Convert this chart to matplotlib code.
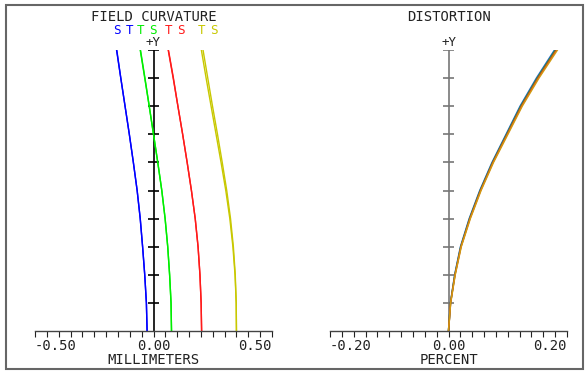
import numpy as np
import matplotlib
matplotlib.use("Agg")
import matplotlib.pyplot as plt
from matplotlib.patches import Rectangle

# relative field height (0 = axis, 1 = full field)
field = [0.0, 0.1, 0.2, 0.3, 0.4, 0.5, 0.6, 0.7, 0.8, 0.9, 1.0]

# field curvature, millimeters (T = tangential, S = sagittal)
blue_s = [-0.027, -0.030, -0.037, -0.046, -0.056, -0.069, -0.085, -0.102, -0.120, -0.138, -0.156]
blue_t = [-0.027, -0.030, -0.037, -0.046, -0.056, -0.069, -0.085, -0.102, -0.120, -0.138, -0.155]
green_t = [0.076, 0.074, 0.068, 0.060, 0.049, 0.035, 0.018, 0.000, -0.018, -0.037, -0.056]
green_s = [0.076, 0.074, 0.068, 0.060, 0.049, 0.035, 0.018, 0.000, -0.018, -0.036, -0.055]
red_t = [0.203, 0.201, 0.196, 0.188, 0.176, 0.160, 0.142, 0.123, 0.103, 0.083, 0.062]
red_s = [0.203, 0.201, 0.196, 0.188, 0.176, 0.160, 0.142, 0.123, 0.103, 0.084, 0.063]
yel_t = [0.350, 0.349, 0.344, 0.335, 0.322, 0.305, 0.285, 0.264, 0.243, 0.222, 0.202]
yel_s = [0.350, 0.349, 0.345, 0.337, 0.325, 0.309, 0.290, 0.270, 0.249, 0.229, 0.209]

# distortion, percent
dist_blue = [0.0, 0.0033, 0.0104, 0.0202, 0.0350, 0.0528, 0.0735, 0.0972, 0.1208, 0.1484, 0.1790]
dist_green = [0.0, 0.0034, 0.0107, 0.0207, 0.0356, 0.0535, 0.0743, 0.0982, 0.1220, 0.1498, 0.1806]
dist_red = [0.0, 0.0035, 0.0110, 0.0211, 0.0362, 0.0542, 0.0751, 0.0992, 0.1232, 0.1512, 0.1822]
dist_orange = [0.0, 0.0036, 0.0113, 0.0215, 0.0368, 0.0549, 0.0759, 0.1002, 0.1244, 0.1526, 0.1838]

W, H = 588, 373
fig = plt.figure(figsize=(W / 100, H / 100), dpi=100)
font = dict(family="DejaVu Sans Mono", fontsize=10, color="#222222")

def px_axes(x0, x1, y0, y1):
    return fig.add_axes([x0 / W, 1 - y1 / H, (x1 - x0) / W, (y1 - y0) / H])

def setup(ax, lim, step, ycolor, title, xlabel):
    ax.set_xlim(-lim, lim)
    ax.set_ylim(0, 1)
    ax.patch.set_alpha(0)
    for s in ["top", "right", "left"]:
        ax.spines[s].set_visible(False)
    ax.spines["bottom"].set_color("#444444")
    ax.spines["bottom"].set_linewidth(1)
    ax.set_xticks(np.linspace(-lim, lim, int(round(2 * lim / step)) + 1))
    ax.tick_params(axis="x", direction="out", length=4, width=0.8, colors="#222222",
                   labelbottom=False)
    ax.set_yticks([])
    # vertical +Y axis at x = 0 with short cross ticks
    ax.plot([0, 0], [0, 1], color=ycolor, lw=1.2, zorder=1)
    w = lim * 0.05
    ax.hlines(field[1:], -w, w, color=ycolor, lw=1.2, zorder=1)
    ax.annotate("+Y", (0, 1), xytext=(0, 5.5), textcoords="offset points",
                ha="center", va="center", family="DejaVu Sans Mono", fontsize=9,
                color="#222222")
    # axis tick labels and titles
    ax.text(-lim, -0.03, f"{-lim:.2f}", ha="left", va="top", **font)
    ax.text(0.0, -0.03, "0.00", ha="center", va="top", **font)
    ax.text(lim, -0.03, f"{lim:.2f}", ha="right", va="top", **font)
    ax.text(0.0, -0.08, xlabel, ha="center", va="top", **font)
    ax.annotate(title, (0, 1), xytext=(0, 24), textcoords="offset points",
                ha="center", va="center", **font)

# ---- field curvature ----
ax1 = px_axes(35, 272, 50, 331)
setup(ax1, 0.5, 0.05, "black", "FIELD CURVATURE", "MILLIMETERS")
curves = [(blue_s, blue_t, "#0000ff"), (green_t, green_s, "#00ee00"),
          (red_t, red_s, "#ff1a1a"), (yel_t, yel_s, "#c8c800")]
for a, b, c in curves:
    ax1.plot(a, field, color=c, lw=1.0, zorder=2)
    ax1.plot(b, field, color=c, lw=1.0, zorder=2)
labels = [("S", "T", blue_s, "#0000ff"), ("T", "S", green_t, "#00ee00"),
          ("T", "S", red_t, "#ff1a1a"), ("T", "S", yel_t, "#c8c800")]
for l1, l2, vals, c in labels:
    for txt, dx in [(l1, 0), (l2, 9)]:
        ax1.annotate(txt, (vals[-1], 1), xytext=(dx, 14), textcoords="offset points",
                     ha="center", va="center", family="DejaVu Sans Mono",
                     fontsize=9, color=c)

# ---- distortion ----
ax2 = px_axes(330, 567, 50, 331)
setup(ax2, 0.2, 0.02, "#777777", "DISTORTION", "PERCENT")
for vals, c in [(dist_blue, "#1f5fd0"), (dist_green, "#2ca02c"),
                (dist_red, "#e03020"), (dist_orange, "#d09a10")]:
    ax2.plot(vals, field, color=c, lw=1.1, zorder=2)

# outer frame
fig.patches.append(Rectangle((6 / W, 1 - 369 / H), 577 / W, 364 / H, transform=fig.transFigure,
                             fill=False, edgecolor="#666666", lw=1.5))

fig.savefig("out.png", dpi=100, facecolor="white")
